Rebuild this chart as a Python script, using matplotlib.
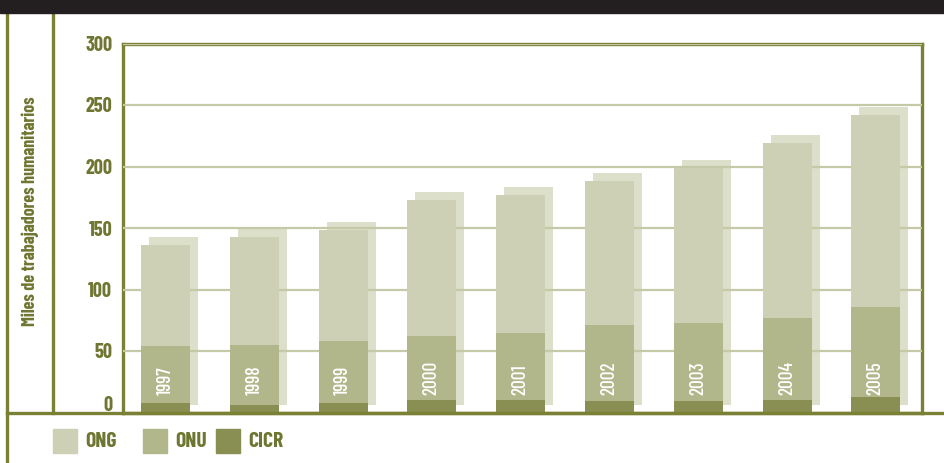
import matplotlib
matplotlib.use("Agg")
import matplotlib.pyplot as plt
from matplotlib.patches import Rectangle
from matplotlib.lines import Line2D
from matplotlib.transforms import ScaledTranslation

# Humanitarian workers (thousands), stacked by organisation
years = ["1997", "1998", "1999", "2000", "2001", "2002", "2003", "2004", "2005"]
cicr = [7.5, 6.5, 8, 10.5, 10, 9, 9, 10, 13]
onu = [54, 54.5, 58, 62.5, 65, 71, 73, 76.5, 85.5]
total = [136, 143, 148, 173, 176.5, 188, 198.5, 219, 242]
legend_labels = ["ONG", "ONU", "CICR"]
yticks = [0, 50, 100, 150, 200, 250, 300]

OLIVE = "#7a8034"
TEXT = "#6f7631"
C_ONG = "#cdd0b4"
C_ONU = "#b2b78b"
C_CICR = "#898e52"
C_SHADOW = "#dcdfc9"
C_GRID = "#c6c9a8"

plt.rcParams["font.family"] = ["Barlow Condensed", "DejaVu Sans"]

W, H = 945, 463
fig = plt.figure(figsize=(W / 100, H / 100), dpi=100)
ax = fig.add_axes([122.7 / W, 1 - 412.5 / H, (922 - 122.7) / W, (412.5 - 43.5) / H])

x = list(range(len(years)))
width = 0.552
ong = [t - o for t, o in zip(total, onu)]
onu_only = [o - c for o, c in zip(onu, cicr)]

# offset "shadow" block behind each column
dx, dy = 0.09, 6.5
ax.bar([i + dx for i in x], total, width, bottom=dy, color=C_SHADOW, zorder=1)

ax.set_yticks(yticks)
ax.grid(axis="y", color=C_GRID, linewidth=1.6, zorder=2)
ax.set_axisbelow(False)

ax.bar(x, cicr, width, color=C_CICR, zorder=3)
ax.bar(x, onu_only, width, bottom=cicr, color=C_ONU, zorder=3)
ax.bar(x, ong, width, bottom=onu, color=C_ONG, zorder=3)

for i, yr in enumerate(years):
    ax.text(i, 14, yr, rotation=90, ha="center", va="bottom",
            color="white", fontsize=14, fontweight="medium", zorder=4)

ax.set_xlim(-0.482, 8.52)
ax.set_ylim(0, 300)
ax.set_xticks([])
ax.set_yticklabels([str(v) for v in yticks], fontsize=14.5,
                   fontweight="bold", color=TEXT)
ax.tick_params(axis="y", length=0, pad=7.5)
lbl0 = ax.get_yticklabels()[0]
lbl0.set_transform(lbl0.get_transform() + ScaledTranslation(0, 9 / 100, fig.dpi_scale_trans))
for s in ax.spines.values():
    s.set_color(OLIVE)
    s.set_linewidth(2.4)

fig.text(30 / W, 1 - 211 / H, "Miles de trabajadores humanitarios", rotation=90,
         ha="center", va="center", fontsize=13, fontweight="bold", color=TEXT)

# frame lines
lw = 2.4
fig.add_artist(Rectangle((0, 1 - 12.7 / H), 1, 12.7 / H, transform=fig.transFigure,
                         color="#231f20", zorder=5))
fig.add_artist(Line2D([7.5 / W, 7.5 / W], [0, 1 - 12 / H], color=OLIVE, lw=lw))
fig.add_artist(Line2D([53.5 / W, 53.5 / W], [1 - 412.5 / H, 1 - 12 / H], color=OLIVE, lw=lw))
fig.add_artist(Line2D([7.5 / W, 1], [1 - 412.5 / H, 1 - 412.5 / H], color=OLIVE, lw=lw))

# legend
sq_x = [53, 143, 216]
for sx, lab, col in zip(sq_x, legend_labels, [C_ONG, C_ONU, C_CICR]):
    fig.add_artist(Rectangle((sx / W, 1 - 452.5 / H), 24 / W, 23.5 / H,
                             transform=fig.transFigure, color=col))
    fig.text((sx + 32) / W, 1 - 441.5 / H, lab, ha="left", va="center",
             fontsize=15.5, fontweight="bold", color=TEXT)

fig.savefig("out.png", dpi=100)
